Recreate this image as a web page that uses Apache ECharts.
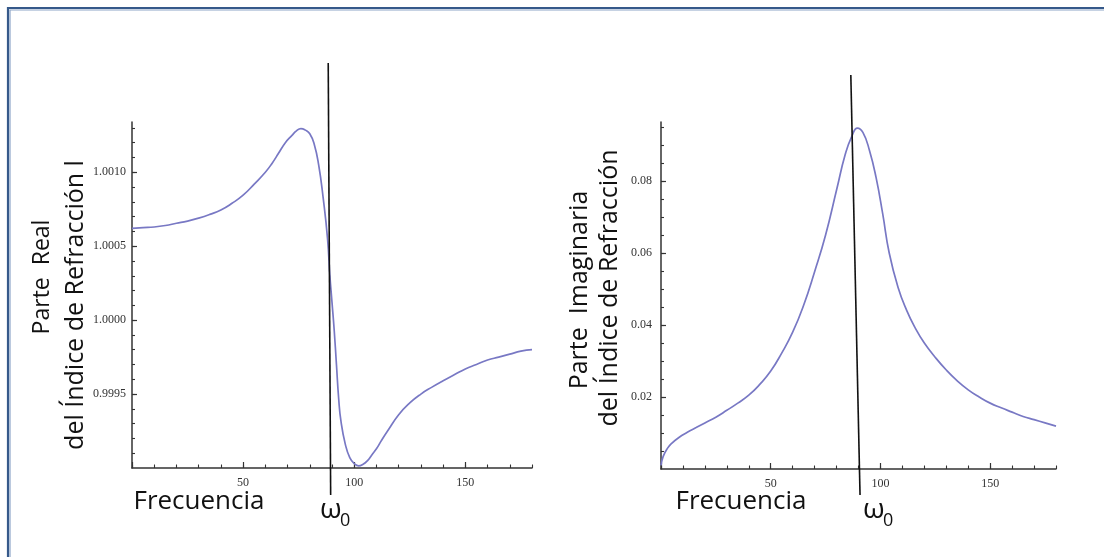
<!DOCTYPE html>
<html>
<head>
<meta charset="utf-8">
<script src="https://cdn.jsdelivr.net/npm/echarts@6/dist/echarts.min.js"></script>
<style>
html,body{margin:0;padding:0;background:#fff;}
#chart{width:1104px;height:557px;}
</style>
</head>
<body>
<div id="chart"></div>
<script>
// ---------- DATA ----------
const realX = [0,5,10,15,20,25,30,35,40,45,50,55,60,63,66,69,72,74,76,78,80,82,84,86,88,89,90,91,92,93,94,96,98,100,102,104,106,108,110,112,115,120,125,130,135,140,145,150,155,160,165,170,175,180];
const realY = [1.00062,1.000625,1.00063,1.00064,1.000655,1.00067,1.00069,1.000715,1.000745,1.00079,1.000845,1.00092,1.00100,1.00106,1.00113,1.00120,1.00125,1.00128,1.001295,1.001285,1.00126,1.00119,1.00105,1.00083,1.00055,1.00031,1.00012,0.99993,0.99970,0.99947,0.99932,0.99916,0.99907,0.99903,0.999014,0.999025,0.99905,0.99909,0.99913,0.99918,0.99925,0.99936,0.99944,0.99950,0.999547,0.99959,0.99963,0.99967,0.99970,0.99973,0.99975,0.99977,0.99979,0.99980];
const imagX = [0,1,3,5,8,12,16,20,25,30,35,40,45,50,55,60,65,70,75,80,84,87,89.5,92,95,98,101,104,108,112,116,120,125,130,135,140,145,150,155,160,165,170,175,180];
const imagY = [0.001,0.0035,0.0058,0.0072,0.0087,0.0102,0.0115,0.0128,0.0144,0.0163,0.0183,0.0205,0.0235,0.0272,0.0322,0.0380,0.0455,0.0548,0.0650,0.0775,0.0875,0.0925,0.0947,0.0935,0.0885,0.0810,0.0710,0.0600,0.0505,0.0440,0.0390,0.0350,0.0310,0.0275,0.0245,0.0220,0.0200,0.0183,0.0170,0.0158,0.0146,0.0137,0.0128,0.0119];
const xTickLabels = [50,100,150];
const leftYTickLabels = [0.9995,1.0000,1.0005,1.0010];
const rightYTickLabels = [0.02,0.04,0.06,0.08];
const leftW0Line = [[88.3,1],[89.4,0]];
const rightW0Line = [[86.5,1],[90.7,0]];
// ---------- END DATA ----------

function zip(a,b){return a.map((v,i)=>[v,b[i]]);}
function steps(from,to,step){const r=[];for(let v=from;v<=to+step*1e-6;v+=step){r.push(+v.toFixed(6));}return r;}

const axisColor = '#333';
const labelFont = {fontFamily:'Liberation Serif', fontSize:12, color:'#333'};
const curveColor = '#7878c4';
const titleFont = 'Open Sans';

function majorX(gi){
  return {type:'value', gridIndex:gi, position:'bottom', min:0, max:180, interval:50,
    axisLine:{show:true, onZero:false, lineStyle:{color:axisColor,width:1.5}},
    axisTick:{show:true, inside:true, length:6, lineStyle:{color:axisColor,width:1.2}, customValues:[0].concat(xTickLabels)},
    axisLabel:Object.assign({show:true, margin:9, customValues:xTickLabels, formatter:v=>String(v)}, labelFont),
    splitLine:{show:false}};
}
function minorX(gi){
  return {type:'value', gridIndex:gi, position:'bottom', min:0, max:180, interval:10,
    axisLine:{show:false}, axisLabel:{show:false}, splitLine:{show:false},
    axisTick:{show:true, inside:true, length:3.5, lineStyle:{color:axisColor,width:1.1}, customValues:steps(0,180,10)}};
}
function hiddenAxis(gi,min,max){
  return {type:'value', gridIndex:gi, min:min, max:max, show:false};
}

const option = {
  animation:false,
  backgroundColor:'#ffffff',
  grid:[
    {left:132, top:122, width:400, height:346},
    {left:661, top:122, width:395, height:347},
    {left:132, top:63, width:400, height:432},
    {left:661, top:75, width:395, height:420}
  ],
  xAxis:[
    majorX(0), minorX(0), majorX(1), minorX(1),
    hiddenAxis(2,0,180), hiddenAxis(3,0,180)
  ],
  yAxis:[
    {type:'value', gridIndex:0, position:'left', min:0.9990, max:1.00134, interval:0.0005,
      axisLine:{show:true, onZero:false, lineStyle:{color:axisColor,width:1.5}},
      axisTick:{show:true, inside:true, length:5, lineStyle:{color:axisColor,width:1.2}, customValues:leftYTickLabels},
      axisLabel:Object.assign({show:true, margin:6, customValues:leftYTickLabels, formatter:v=>v.toFixed(4)}, labelFont),
      splitLine:{show:false}},
    {type:'value', gridIndex:0, position:'left', min:0.9990, max:1.00134, interval:0.0001,
      axisLine:{show:false}, axisLabel:{show:false}, splitLine:{show:false},
      axisTick:{show:true, inside:true, length:3, lineStyle:{color:axisColor,width:1.1}, customValues:steps(0.9991,1.0013,0.0001)}},
    {type:'value', gridIndex:1, position:'left', min:0, max:0.0964, interval:0.02,
      axisLine:{show:true, onZero:false, lineStyle:{color:axisColor,width:1.5}},
      axisTick:{show:true, inside:true, length:5, lineStyle:{color:axisColor,width:1.2}, customValues:rightYTickLabels},
      axisLabel:Object.assign({show:true, margin:9, customValues:rightYTickLabels, formatter:v=>v.toFixed(2)}, labelFont),
      splitLine:{show:false}},
    {type:'value', gridIndex:1, position:'left', min:0, max:0.0964, interval:0.005,
      axisLine:{show:false}, axisLabel:{show:false}, splitLine:{show:false},
      axisTick:{show:true, inside:true, length:3, lineStyle:{color:axisColor,width:1.1}, customValues:steps(0.005,0.095,0.005)}},
    hiddenAxis(2,0,1), hiddenAxis(3,0,1)
  ],
  series:[
    {type:'line', xAxisIndex:0, yAxisIndex:0, data:zip(realX,realY), smooth:0.5, symbol:'none',
      lineStyle:{color:curveColor, width:1.7}},
    {type:'line', xAxisIndex:2, yAxisIndex:2, data:zip(imagX,imagY), smooth:0.5, symbol:'none',
      lineStyle:{color:curveColor, width:1.7}},
    {type:'line', xAxisIndex:4, yAxisIndex:4, data:leftW0Line, symbol:'none',
      lineStyle:{color:'#111', width:1.6}},
    {type:'line', xAxisIndex:5, yAxisIndex:5, data:rightW0Line, symbol:'none',
      lineStyle:{color:'#111', width:1.6}}
  ],
  graphic:[
    {type:'rect', silent:true, shape:{x:8,y:8,width:1200,height:700},
      style:{fill:'none', stroke:'#36598a', lineWidth:2.2}},
    {type:'rect', silent:true, shape:{x:10,y:10,width:1200,height:700},
      style:{fill:'none', stroke:'#8ea6c8', lineWidth:1.2}},
    {type:'text', x:42, y:277, rotation:Math.PI/2,
      style:{text:'Parte  Real', align:'center', verticalAlign:'middle', fontFamily:titleFont, fontSize:23, fill:'#111'}},
    {type:'text', x:76, y:305, rotation:Math.PI/2,
      style:{text:'del Índice de Refracción l', align:'center', verticalAlign:'middle', fontFamily:titleFont, fontSize:25, fill:'#111'}},
    {type:'text', x:580, y:290, rotation:Math.PI/2,
      style:{text:'Parte  Imaginaria', align:'center', verticalAlign:'middle', fontFamily:titleFont, fontSize:25, fill:'#111'}},
    {type:'text', x:610, y:288, rotation:Math.PI/2,
      style:{text:'del Índice de Refracción', align:'center', verticalAlign:'middle', fontFamily:titleFont, fontSize:25, fill:'#111'}},
    {type:'text', x:199, y:502,
      style:{text:'Frecuencia', align:'center', verticalAlign:'middle', fontFamily:titleFont, fontSize:26, fill:'#111'}},
    {type:'text', x:741, y:502,
      style:{text:'Frecuencia', align:'center', verticalAlign:'middle', fontFamily:titleFont, fontSize:26, fill:'#111'}},
    {type:'text', x:320, y:510,
      style:{text:'ω', align:'left', verticalAlign:'middle', fontFamily:titleFont, fontSize:28, fill:'#111'}},
    {type:'text', x:340, y:521,
      style:{text:'0', align:'left', verticalAlign:'middle', fontFamily:titleFont, fontSize:18, fill:'#111'}},
    {type:'text', x:863, y:510,
      style:{text:'ω', align:'left', verticalAlign:'middle', fontFamily:titleFont, fontSize:28, fill:'#111'}},
    {type:'text', x:883, y:521,
      style:{text:'0', align:'left', verticalAlign:'middle', fontFamily:titleFont, fontSize:18, fill:'#111'}}
  ]
};
const chart = echarts.init(document.getElementById('chart'), null, {renderer:'canvas'});
chart.setOption(option);
</script>
</body>
</html>
